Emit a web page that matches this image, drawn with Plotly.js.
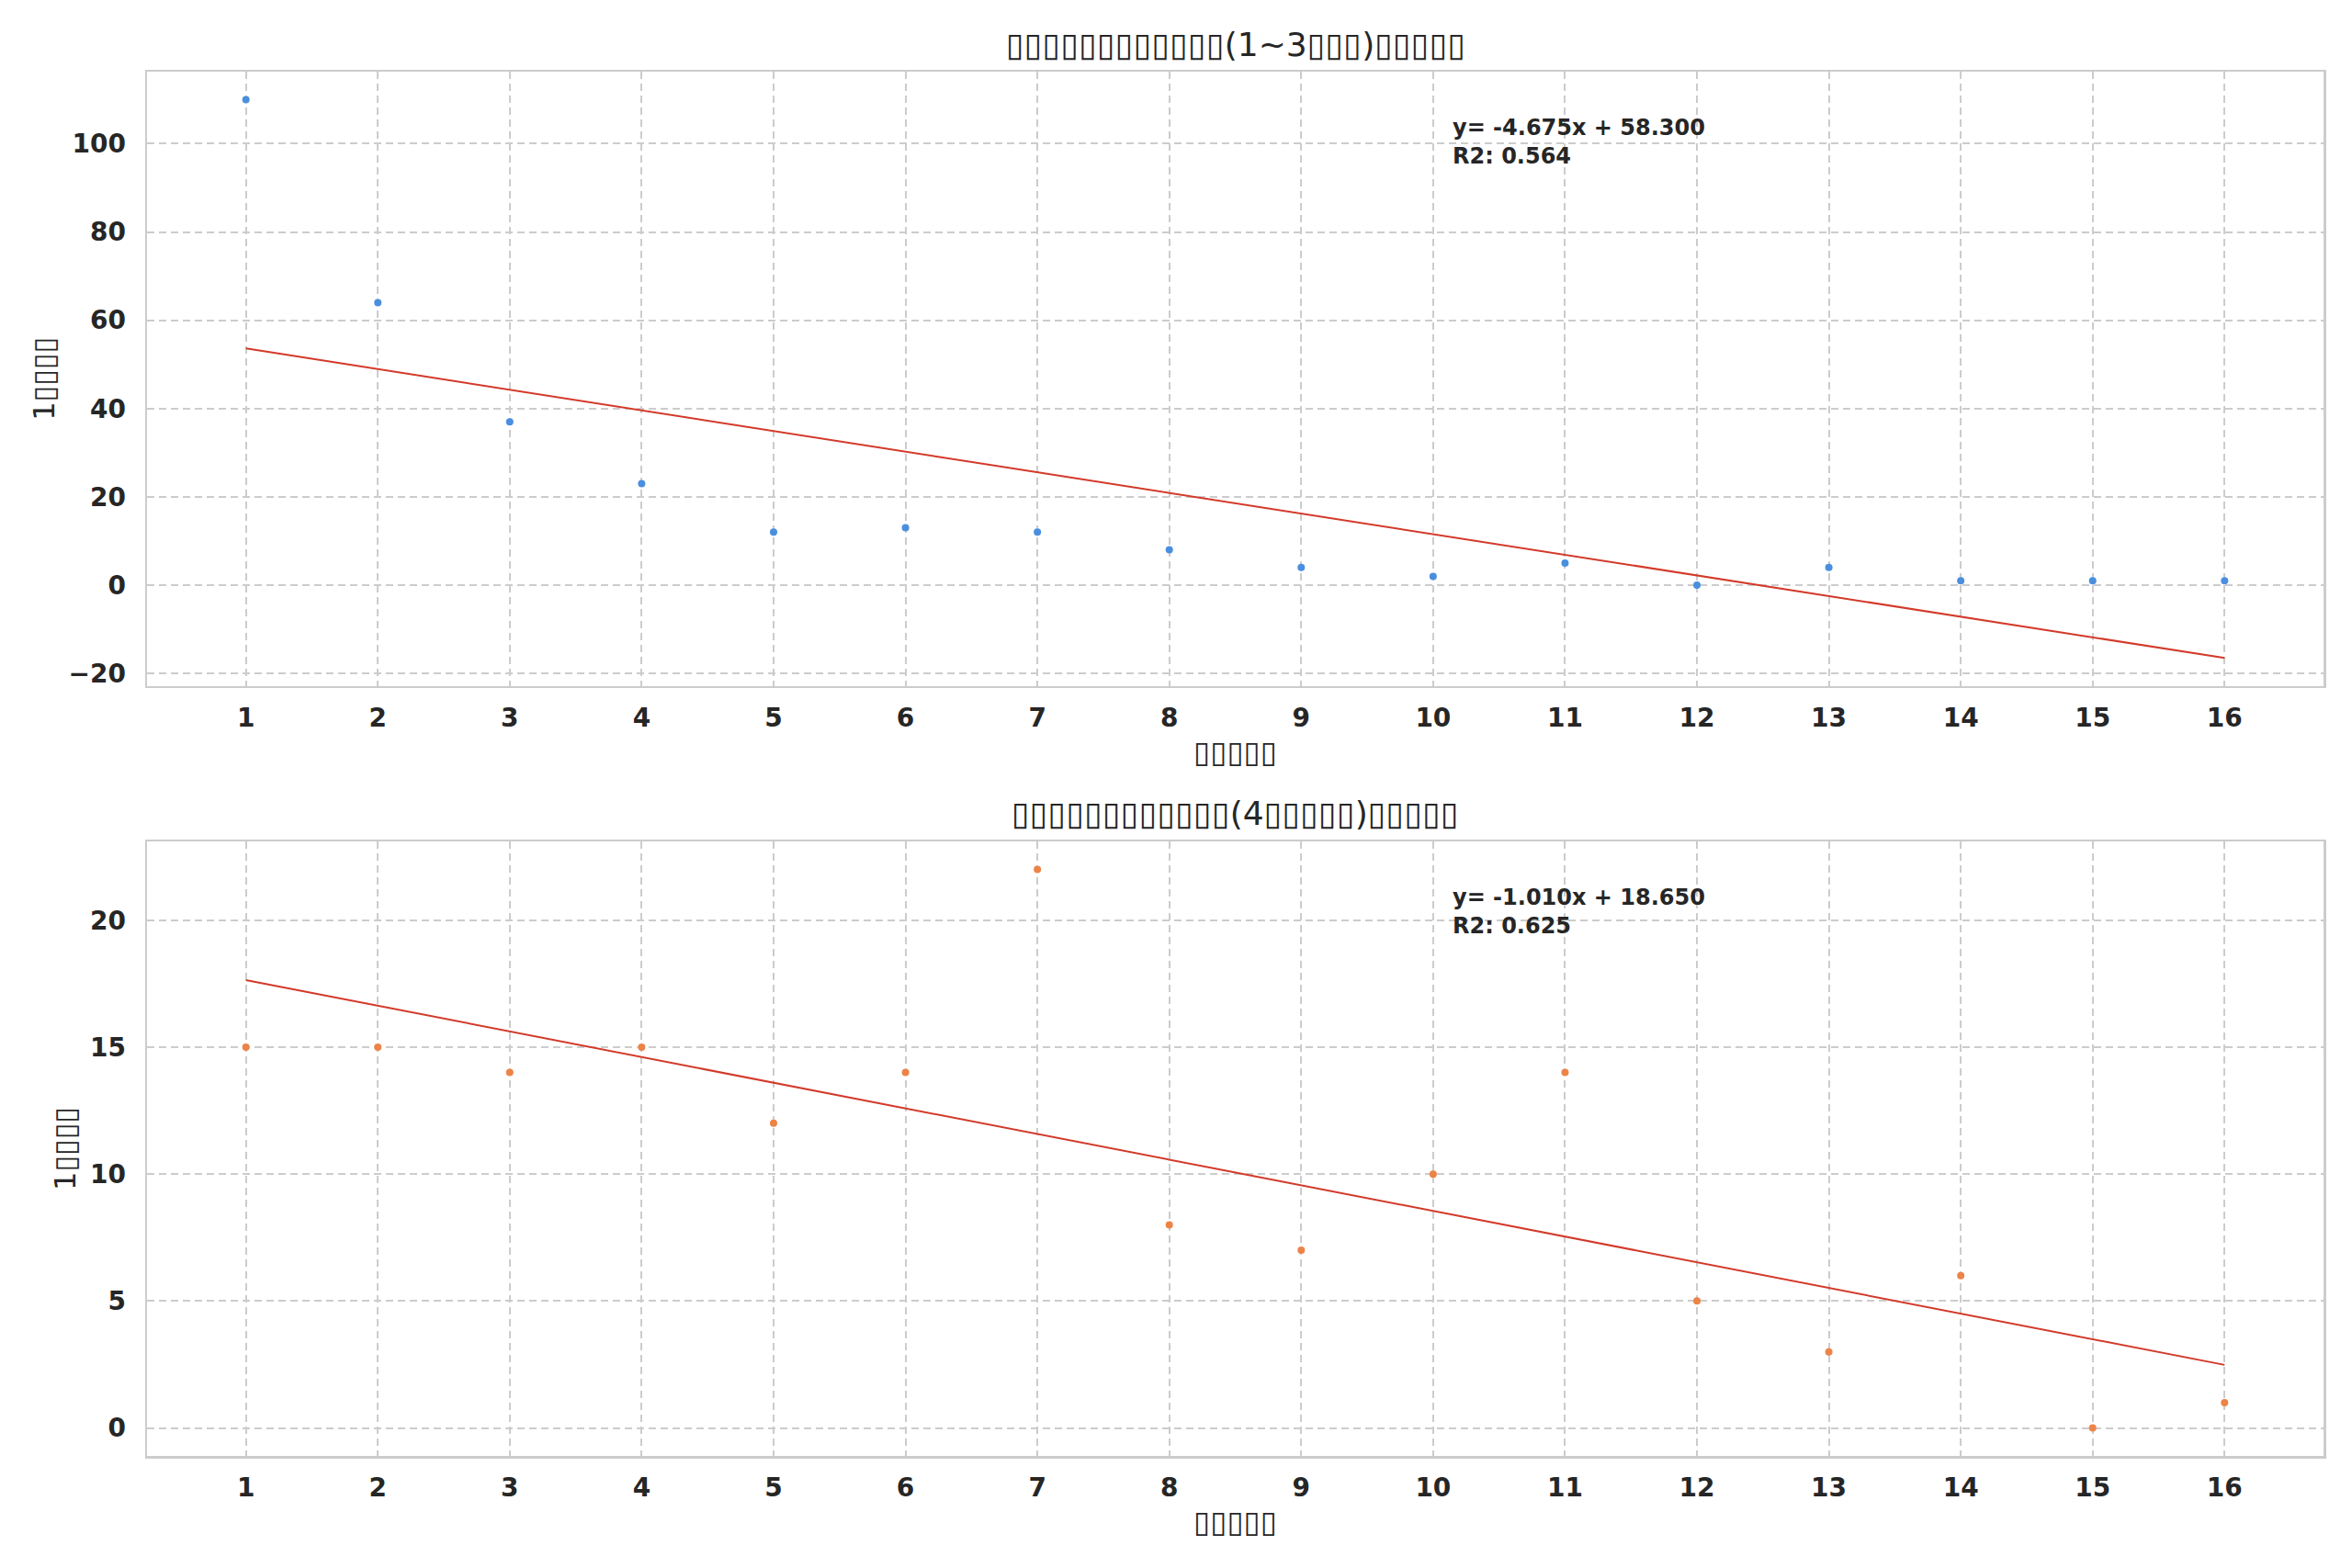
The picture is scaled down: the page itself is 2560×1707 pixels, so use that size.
<!DOCTYPE html>
<html>
<head>
<meta charset="utf-8">
<script src="https://cdn.plot.ly/plotly-3.0.1.min.js"></script>
<style>
html,body{margin:0;padding:0;background:#fff;}
#chart{width:2560px;height:1707px;}
</style>
</head>
<body>
<div id="chart"></div>
<script>
// ---- data ----
const xValues = [1, 2, 3, 4, 5, 6, 7, 8, 9, 10, 11, 12, 13, 14, 15, 16];
const topValues = [110, 64, 37, 23, 12, 13, 12, 8, 4, 2, 5, 0, 4, 1, 1, 1];
const bottomValues = [15, 15, 14, 15, 12, 14, 22, 8, 7, 10, 14, 5, 3, 6, 0, 1];

// text (the reference shows missing-glyph boxes for the CJK characters)
const topTitle = "▯▯▯▯▯▯▯▯▯▯▯▯(1~3▯▯▯)▯▯▯▯▯";
const bottomTitle = "▯▯▯▯▯▯▯▯▯▯▯▯(4▯▯▯▯▯)▯▯▯▯▯";
const xLabel = "▯▯▯▯▯";
const yLabel = "1▯▯▯▯";
const topFitText = "y= -4.675x + 58.300<br>R2: 0.564";
const bottomFitText = "y= -1.010x + 18.650<br>R2: 0.625";
const topTicks = [-20, 0, 20, 40, 60, 80, 100];
const bottomTicks = [0, 5, 10, 15, 20];

// least-squares fit computed from the data
function fit(xs, ys) {
  const n = xs.length;
  const mx = xs.reduce((a, b) => a + b, 0) / n;
  const my = ys.reduce((a, b) => a + b, 0) / n;
  let sxy = 0, sxx = 0;
  for (let i = 0; i < n; i++) { sxy += (xs[i] - mx) * (ys[i] - my); sxx += (xs[i] - mx) ** 2; }
  const m = sxy / sxx, b = my - m * mx;
  return xs.map(x => m * x + b);
}
const topFit = fit(xValues, topValues);
const bottomFit = fit(xValues, bottomValues);

const FONT = "DejaVu Sans, Liberation Sans, sans-serif";
const TXT = "#262626";
const GRID = "#cccccc";

const traces = [
  {x: xValues, y: topValues, type: "scatter", mode: "markers", xaxis: "x", yaxis: "y",
   marker: {color: "#4a8fdf", size: 8, line: {width: 0}}, showlegend: false},
  {x: xValues, y: topFit, type: "scatter", mode: "lines", xaxis: "x", yaxis: "y",
   line: {color: "#d33a2a", width: 2}, showlegend: false},
  {x: xValues, y: bottomValues, type: "scatter", mode: "markers", xaxis: "x2", yaxis: "y2",
   marker: {color: "#ec8447", size: 8, line: {width: 0}}, showlegend: false},
  {x: xValues, y: bottomFit, type: "scatter", mode: "lines", xaxis: "x2", yaxis: "y2",
   line: {color: "#d33a2a", width: 2}, showlegend: false}
];

function xAxis(anchor) {
  return {
    anchor: anchor, domain: [0, 1], range: [0.25, 16.75],
    tickmode: "array", tickvals: xValues, ticktext: xValues.map(String),
    tickfont: {family: FONT, size: 28, color: TXT, weight: "bold"},
    ticks: "outside", ticklen: 8, tickcolor: "rgba(0,0,0,0)",
    showgrid: true, gridcolor: GRID, gridwidth: 2, griddash: "8px,5px",
    zeroline: false, showline: true, linecolor: GRID, linewidth: 2.5, mirror: true,
    automargin: false,
    title: {text: xLabel, font: {family: FONT, size: 33, color: TXT}, standoff: 10}
  };
}
function yAxis(anchor, domain, range, ticks) {
  return {
    anchor: anchor, domain: domain, range: range,
    tickmode: "array", tickvals: ticks, ticktext: ticks.map(v => v < 0 ? "\u2212" + Math.abs(v) : String(v)),
    tickfont: {family: FONT, size: 28, color: TXT, weight: "bold"},
    ticks: "outside", ticklen: 15, tickcolor: "rgba(0,0,0,0)",
    showgrid: true, gridcolor: GRID, gridwidth: 2, griddash: "8px,5px",
    zeroline: false, showline: true, linecolor: GRID, linewidth: 2.5, mirror: true,
    automargin: false,
    title: {text: yLabel, font: {family: FONT, size: 32, color: TXT}, standoff: 6}
  };
}

const H = 1707, T = 78, B = 122, PH = H - T - B;
function py(Y) { return (H - B - Y) / PH; }

const layout = {
  width: 2560, height: 1707,
  margin: {l: 160, r: 31, t: T, b: B, pad: 0},
  paper_bgcolor: "#ffffff", plot_bgcolor: "#ffffff",
  showlegend: false,
  font: {family: FONT, color: TXT},
  xaxis: xAxis("y"),
  yaxis: yAxis("x", [py(746.7), 1], [-22.825, 116.325], topTicks),
  xaxis2: xAxis("y2"),
  yaxis2: yAxis("x2", [0, py(916)], [-1.1, 23.1], bottomTicks),
  annotations: [
    {text: topTitle, xref: "paper", yref: "paper", x: 0.5, y: py(49), xanchor: "center", yanchor: "middle",
     showarrow: false, font: {family: FONT, size: 36, color: TXT}},
    {text: bottomTitle, xref: "paper", yref: "paper", x: 0.5, y: py(885), xanchor: "center", yanchor: "middle",
     showarrow: false, font: {family: FONT, size: 36, color: TXT}},
    {text: topFitText, xref: "x domain", yref: "y domain", x: 0.599, y: 0.932, xanchor: "left", yanchor: "top",
     align: "left", showarrow: false, font: {family: FONT, size: 24, color: TXT, weight: "bold"}},
    {text: bottomFitText, xref: "x2 domain", yref: "y2 domain", x: 0.599, y: 0.932, xanchor: "left", yanchor: "top",
     align: "left", showarrow: false, font: {family: FONT, size: 24, color: TXT, weight: "bold"}}
  ]
};

Plotly.newPlot("chart", traces, layout, {staticPlot: true, displayModeBar: false});
</script>
</body>
</html>
